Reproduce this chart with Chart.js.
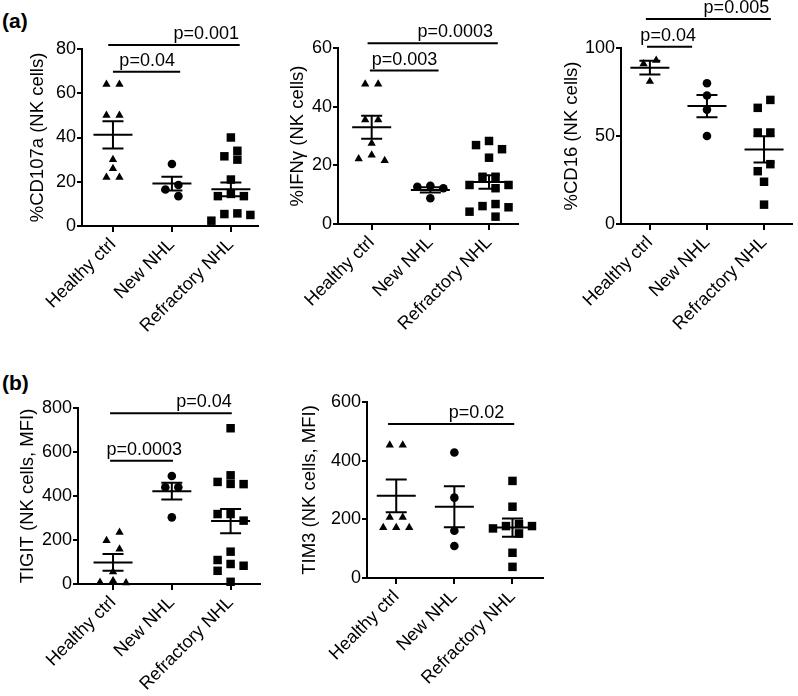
<!DOCTYPE html>
<html>
<head>
<meta charset="utf-8">
<script src="https://cdn.jsdelivr.net/npm/chart.js@4.4.1/dist/chart.umd.min.js"></script>
<style>
  html, body { margin: 0; padding: 0; background: #fff; }
  #wrap { position: relative; width: 798px; height: 696px; overflow: hidden; font-family: "Liberation Sans", Arial, sans-serif; }
  canvas { position: absolute; }
  .tag { position: absolute; font-weight: bold; font-size: 21px; line-height: 21px; }
</style>
</head>
<body>
<div id="wrap">
  <div class="tag" style="left:2px;top:10px">(a)</div>
  <div class="tag" style="left:2px;top:372px">(b)</div>
  <canvas id="cd107a"></canvas>
  <canvas id="ifng"></canvas>
  <canvas id="cd16"></canvas>
  <canvas id="tigit"></canvas>
  <canvas id="tim3"></canvas>
</div>
<script>
// groups on the x axis
var groupLabels = ['Healthy ctrl', 'New NHL', 'Refractory NHL'];

// %CD107a
var cd107aHealthy = [64, 64, 50, 50, 30, 26, 22, 22];
var cd107aNew = [28, 18.5, 16.5, 13.5];
var cd107aRefractory = [40, 34, 31.5, 30, 21, 14.5, 13.5, 13.5, 5.7, 5.4, 5, 2.4];
var cd107aMean = [41.2, 19.2, 16.6];
var cd107aSem = [6.2, 3.1, 3.1];
var cd107aTicks = [0, 20, 40, 60, 80];
var cd107aP = ['p=0.04', 'p=0.001'];

// %IFNγ
var ifngHealthy = [47.7, 47.7, 35.5, 35.5, 27.5, 23.5, 22.2, 21.6];
var ifngNew = [13, 12.7, 12.2, 8.8];
var ifngRefractory = [28.3, 26.9, 25.5, 22.6, 16.1, 16.1, 13.3, 13.3, 12.2, 6.8, 6.1, 5.7, 4.2, 2.5];
var ifngMean = [33, 11.6, 14.3];
var ifngSem = [3.9, 0.9, 2.3];
var ifngTicks = [0, 20, 40, 60];
var ifngP = ['p=0.003', 'p=0.0003'];

// %CD16
var cd16Healthy = [93, 91, 81];
var cd16New = [80, 73, 65, 50];
var cd16Refractory = [70.5, 66, 52, 52, 34, 30, 24, 11];
var cd16Mean = [88.8, 67, 42.4];
var cd16Sem = [3.9, 6.3, 7.4];
var cd16Ticks = [0, 50, 100];
var cd16P = ['p=0.04', 'p=0.005'];

// TIGIT MFI
var tigitHealthy = [235, 197, 159, 55, 15, 8, 5];
var tigitNew = [491, 440, 440, 303];
var tigitRefractory = [708, 494, 464, 455, 454, 318, 318, 288, 147, 109, 91, 83, 60, 10];
var tigitMean = [98, 422, 286];
var tigitSem = [38, 38, 55];
var tigitTicks = [0, 200, 400, 600, 800];
var tigitP = ['p=0.0003', 'p=0.04'];

// TIM3 MFI
var tim3Healthy = [453, 453, 207, 207, 172, 172, 172];
var tim3New = [428, 274, 161, 109];
var tim3Refractory = [331, 243, 184, 177, 177, 169, 152, 86, 38];
var tim3Mean = [280, 243, 172];
var tim3Sem = [56, 70, 31];
var tim3Ticks = [0, 200, 400, 600];
var tim3P = ['p=0.02'];

var FONT = '"Liberation Sans", Arial, sans-serif';
Chart.defaults.font.family = FONT;
Chart.defaults.font.size = 18;
Chart.defaults.color = '#000';

var panels = [
    { id: 'cd107a', left: 0, top: 0, w: 270, h: 360, axisX: 82, xEnd: 258, yTop: 49, yBottom: 226,
      xMin: 0.475, xMax: 3.46, titleX: 38, title: '%CD107a (NK cells)',
      series: [cd107aHealthy, cd107aNew, cd107aRefractory], mean: cd107aMean, sem: cd107aSem, ticks: cd107aTicks,
      bars: [
          { text: cd107aP[0], level: 69.7, x1: 1.0, x2: 2.14, textX: 1.58, align: 'center' },
          { text: cd107aP[1], level: 81.8, x1: 0.92, x2: 3.15, textX: 3.14, align: 'right' }
      ] },
    { id: 'ifng', left: 270, top: 0, w: 260, h: 360, axisX: 338, xEnd: 518, yTop: 48, yBottom: 224,
      xMin: 0.426, xMax: 3.494, titleX: 298, title: '%IFNγ (NK cells)',
      series: [ifngHealthy, ifngNew, ifngRefractory], mean: ifngMean, sem: ifngSem, ticks: ifngTicks,
      bars: [
          { text: ifngP[0], level: 52.3, x1: 0.97, x2: 2.14, textX: 1.56, align: 'center' },
          { text: ifngP[1], level: 61.6, x1: 0.93, x2: 3.15, textX: 3.07, align: 'right' }
      ] },
    { id: 'cd16', left: 530, top: 0, w: 268, h: 360, axisX: 621, xEnd: 797, yTop: 48, yBottom: 224,
      xMin: 0.494, xMax: 3.49, titleX: 572, title: '%CD16 (NK cells)',
      series: [cd16Healthy, cd16New, cd16Refractory], mean: cd16Mean, sem: cd16Sem, ticks: cd16Ticks,
      bars: [
          { text: cd16P[0], level: 100.7, x1: 0.95, x2: 1.74, textX: 1.32, align: 'center' },
          { text: cd16P[1], level: 116.5, x1: 0.93, x2: 3.12, textX: 3.09, align: 'right' }
      ] },
    { id: 'tigit', left: 0, top: 370, w: 280, h: 326, axisX: 78, xEnd: 260, yTop: 408, yBottom: 584,
      xMin: 0.404, xMax: 3.5, titleX: 28, title: 'TIGIT (NK cells, MFI)',
      series: [tigitHealthy, tigitNew, tigitRefractory], mean: tigitMean, sem: tigitSem, ticks: tigitTicks,
      bars: [
          { text: tigitP[0], level: 560, x1: 0.95, x2: 2.02, textX: 1.53, align: 'center' },
          { text: tigitP[1], level: 776, x1: 0.95, x2: 3.02, textX: 3.02, align: 'right' }
      ] },
    { id: 'tim3', left: 280, top: 370, w: 270, h: 326, axisX: 367, xEnd: 543, yTop: 402, yBottom: 578,
      xMin: 0.497, xMax: 3.525, titleX: 310, title: 'TIM3 (NK cells, MFI)',
      series: [tim3Healthy, tim3New, tim3Refractory], mean: tim3Mean, sem: tim3Sem, ticks: tim3Ticks,
      bars: [
          { text: tim3P[0], level: 525, x1: 0.86, x2: 3.03, textX: 2.38, align: 'center' }
      ] }
];

var markers = [
    { style: 'triangle', radius: 4.8 },
    { style: 'circle', radius: 4.3 },
    { style: 'rect', radius: 6 }
];

// Prism-like column scatter: push overlapping points into side slots
function swarm(values, pxPerUnit, slotX) {
    var D = 8.5 / pxPerUnit;
    var order = values.map(function (v, i) { return i; })
        .sort(function (a, b) { return values[b] - values[a]; });
    var slot = [];
    var placed = [];
    order.forEach(function (i) {
        var ks = [0, -1, 1, -2, 2, -3, 3];
        for (var n = 0; n < ks.length; n++) {
            var k = ks[n];
            var hit = placed.some(function (j) {
                return slot[j] === k && Math.abs(values[j] - values[i]) < D;
            });
            if (!hit) { slot[i] = k; break; }
        }
        placed.push(i);
    });
    // centre each run of touching points
    var run = [];
    function flush() {
        if (!run.length) return;
        var ks = run.map(function (j) { return slot[j]; });
        var c = (Math.min.apply(null, ks) + Math.max.apply(null, ks)) / 2;
        run.forEach(function (j) { slot[j] -= c; });
        run = [];
    }
    order.forEach(function (i, n) {
        if (n > 0 && values[order[n - 1]] - values[i] >= D) flush();
        run.push(i);
    });
    flush();
    return slot.map(function (k) { return k * slotX; });
}

function makeChart(p) {
    var canvas = document.getElementById(p.id);
    canvas.width = p.w;
    canvas.height = p.h;
    canvas.style.left = p.left + 'px';
    canvas.style.top = p.top + 'px';

    var yMax = p.ticks[p.ticks.length - 1];
    var pxPerUnit = (p.yBottom - p.yTop) / yMax;
    var slotX = 13 / ((p.xEnd - p.axisX) / (p.xMax - p.xMin));

    var datasets = p.series.map(function (values, g) {
        var offs = swarm(values, pxPerUnit, slotX);
        return {
            data: values.map(function (v, i) { return { x: g + 1 + offs[i], y: v }; }),
            pointStyle: markers[g].style,
            pointRadius: markers[g].radius,
            pointBackgroundColor: '#000',
            pointBorderWidth: 0,
            showLine: false,
            clip: false
        };
    });

    var extras = {
        id: 'prismExtras',
        afterDatasetsDraw: function (chart) {
            var ctx = chart.ctx, x = chart.scales.x, y = chart.scales.y;
            ctx.save();
            ctx.strokeStyle = '#000';
            ctx.fillStyle = '#000';
            ctx.lineWidth = 2;
            // mean +/- SEM
            p.mean.forEach(function (m, i) {
                var cx = x.getPixelForValue(i + 1);
                var ym = y.getPixelForValue(m);
                var yHi = y.getPixelForValue(m + p.sem[i]);
                var yLo = y.getPixelForValue(m - p.sem[i]);
                ctx.beginPath();
                ctx.moveTo(cx - 19.5, ym); ctx.lineTo(cx + 19.5, ym);
                ctx.moveTo(cx, yHi); ctx.lineTo(cx, yLo);
                ctx.moveTo(cx - 10.5, yHi); ctx.lineTo(cx + 10.5, yHi);
                ctx.moveTo(cx - 10.5, yLo); ctx.lineTo(cx + 10.5, yLo);
                ctx.stroke();
            });
            // significance bars
            ctx.font = '18px ' + FONT;
            ctx.textBaseline = 'alphabetic';
            p.bars.forEach(function (b) {
                var yb = y.getPixelForValue(b.level);
                ctx.beginPath();
                ctx.moveTo(x.getPixelForValue(b.x1), yb);
                ctx.lineTo(x.getPixelForValue(b.x2), yb);
                ctx.stroke();
                ctx.textAlign = b.align;
                ctx.fillText(b.text, x.getPixelForValue(b.textX), yb - 6);
            });
            ctx.restore();
        }
    };

    return new Chart(canvas, {
        type: 'scatter',
        data: { datasets: datasets },
        plugins: [extras],
        options: {
            responsive: false,
            animation: false,
            events: [],
            layout: { padding: { top: p.yTop - p.top, right: p.left + p.w - p.xEnd, bottom: 0, left: 0 } },
            plugins: { legend: { display: false }, tooltip: { enabled: false } },
            scales: {
                x: {
                    type: 'linear',
                    min: p.xMin,
                    max: p.xMax,
                    afterBuildTicks: function (s) {
                        s.ticks = [{ value: 1 }, { value: 2 }, { value: 3 }];
                    },
                    afterFit: function (s) { s.height = p.top + p.h - p.yBottom; },
                    ticks: {
                        autoSkip: false,
                        minRotation: 45,
                        maxRotation: 45,
                        padding: 2,
                        font: { size: 18 },
                        callback: function (v) { return groupLabels[v - 1]; }
                    },
                    grid: { drawOnChartArea: false, drawTicks: true, tickLength: 6, color: '#000', lineWidth: 2 },
                    border: { display: true, color: '#000', width: 2 }
                },
                y: {
                    min: 0,
                    max: yMax,
                    afterBuildTicks: function (s) {
                        s.ticks = p.ticks.map(function (v) { return { value: v }; });
                    },
                    afterFit: function (s) { s.width = p.axisX - p.left; },
                    ticks: { padding: 1, font: { size: 18 } },
                    grid: { drawOnChartArea: false, drawTicks: true, tickLength: 5, color: '#000', lineWidth: 2 },
                    border: { display: true, color: '#000', width: 2 },
                    title: {
                        display: true,
                        text: p.title,
                        font: { size: 18.5 },
                        padding: { top: p.titleX - p.left - 11.1, bottom: 0 }
                    }
                }
            }
        }
    });
}

panels.forEach(makeChart);
</script>
</body>
</html>
